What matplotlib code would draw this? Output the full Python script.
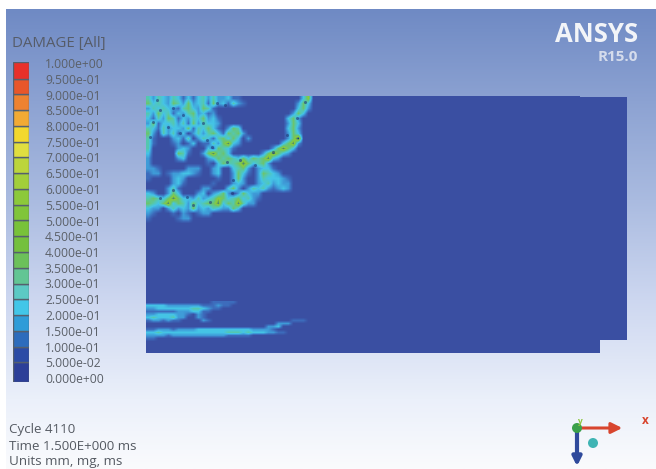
import numpy as np
import matplotlib
matplotlib.use("Agg")
import matplotlib.pyplot as plt
from matplotlib.colors import LinearSegmentedColormap
from matplotlib.patches import Polygon, Circle

W, H = 656, 469

# legend
levels = [0.0, 0.05, 0.1, 0.15, 0.2, 0.25, 0.3, 0.35, 0.4, 0.45, 0.5,
          0.55, 0.6, 0.65, 0.7, 0.75, 0.8, 0.85, 0.9, 0.95, 1.0]
level_labels = ["0.000e+00", "5.000e-02", "1.000e-01", "1.500e-01", "2.000e-01",
                "2.500e-01", "3.000e-01", "3.500e-01", "4.000e-01", "4.500e-01",
                "5.000e-01", "5.500e-01", "6.000e-01", "6.500e-01", "7.000e-01",
                "7.500e-01", "8.000e-01", "8.500e-01", "9.000e-01", "9.500e-01",
                "1.000e+00"]
band_colors = ["#2c3f98", "#2b4ba6", "#2d6cbc", "#2f9cd8", "#42c6e8",
               "#5cc9c4", "#62c594", "#6cc05a", "#74c03e", "#78c23a",
               "#80c53a", "#8cc93a", "#a2cf3a", "#bcd53c", "#e0de40",
               "#f2d82e", "#f2aa34", "#ee8230", "#e8562a", "#e8302a"]

# background
bg_stops_y = [9, 100, 200, 300, 400, 469]
bg_colors = ["#6f8ac4", "#8ca2d2", "#aabbe0", "#cdd7f0", "#ebf0fa", "#fafbfd"]

# body outline
body_x = [146, 580, 580, 627, 627, 600, 600, 146]
body_y = [96, 96, 97, 97, 340, 340, 353, 353]

# damage read by eye, one digit per cell (0 = none, 6 = green, 8 = dark eroded core)
upper_damage = [
    "424324313134242231100000000000036",
    "534325425234152314210000000000253",
    "243432145325410000000000000000352",
    "425341324523120000000000000002530",
    "314254132435231000000000000035200",
    "251334241524332000000000000025300",
    "431423325143531025400000000035200",
    "520424130242453154520000000025300",
    "410002314024314535302000000025800",
    "410001201301142573200000000357200",
    "400000232000315431000000025753000",
    "300000541002574530000002575320000",
    "200000230000235454353545732000000",
    "200000000000103544575345200000000",
    "221000002220023003452023310000000",
    "122012233210023002531025432000000",
    "100002320000001002520024333210000",
    "000002310000010002320023423220000",
    "000024100002200035202434212320000",
    "320025300023023520253220000000000",
    "454357533242346534534210000000000",
    "543573542534557354742200000000000",
    "322024232523243225300000000000000",
    "210001021012200000000000000000000",
    "100000122000000000000000000000000",
]
lower_damage = [
    "0000000000000111110000000000000000",
    "3333222222211121100000000000000000",
    "2233333334432110000000000000000000",
    "1111112223311000000000000000000000",
    "2233332210210000000000000000000000",
    "3433342200210000000000000000000000",
    "1221211000021000000000000000011100",
    "0000000000000000000000000022200000",
    "0000000000000000000000002230000000",
    "1122212222333333333332222100000000",
    "3343333333333333444343332211000000",
    "2222122222222222111110000000000000",
    "1100000000000000000000000000000000",
]
upper_origin = (146, 96)
lower_origin = (146, 301)
upper_cell = (5, 5)
lower_cell = (5, 3)
damage_colors = ["#3a4fa2", "#3d6cbc", "#3f9cd8", "#45c4e6", "#55c8b0",
                 "#6cc46e", "#8ccb3a", "#4a8a70", "#1e3a78"]

# dark spots inside the cracks
dark_spots_x = [157, 173, 153, 168, 183, 203, 207, 217, 225, 212, 227, 240, 255, 273,
                287, 297, 305, 233, 232, 173, 160, 187, 210, 193, 150, 180, 160]
dark_spots_y = [100, 108, 122, 127, 115, 123, 140, 103, 105, 147, 162, 160, 165, 152,
                135, 118, 102, 180, 193, 190, 198, 197, 202, 205, 137, 133, 110]


def to_grid(rows):
    n = max(len(r) for r in rows) + 1
    cells = [[int(c) for c in r.ljust(n, "0")] for r in rows]
    # blank row below so the field fades into the body
    cells += [[0] * n, [0] * n]
    return np.array(cells, dtype=float)


fig = plt.figure(figsize=(W / 100, H / 100), dpi=100)
plt.rcParams["font.family"] = "Open Sans"
ax = fig.add_axes([0, 0, 1, 1])
ax.axis("off")

cmap = LinearSegmentedColormap.from_list(
    "bg", [((y - 9) / (469 - 9), c) for y, c in zip(bg_stops_y, bg_colors)])
ax.imshow(np.linspace(0, 1, 256).reshape(-1, 1), extent=[6, W, H, 9],
          cmap=cmap, aspect="auto", zorder=0)

ax.add_patch(Polygon(list(zip(body_x, body_y)), closed=True, fc=damage_colors[0], ec="none", zorder=1))

dmg_cmap = LinearSegmentedColormap.from_list("dmg", damage_colors)
for rows, (x0, y0), (cw, ch) in [(upper_damage, upper_origin, upper_cell),
                                 (lower_damage, lower_origin, lower_cell)]:
    grid = to_grid(rows)
    nr, nc = grid.shape
    ax.imshow(grid, extent=[x0, x0 + nc * cw, y0 + nr * ch, y0], cmap=dmg_cmap,
              vmin=0, vmax=8, aspect="auto", interpolation="bilinear", zorder=2)

ax.scatter(dark_spots_x, dark_spots_y, s=5, color="#1e3a78", alpha=0.6, linewidths=0, zorder=3)

ax.set_xlim(0, W)
ax.set_ylim(H, 0)

# colour legend, its own axes so ticks carry the labels
cax = fig.add_axes([13 / W, 1 - 382 / H, 16 / W, 320 / H])
ylow, yhigh = -4 / 315, 1 + 1 / 315
cax.set_ylim(ylow, yhigh)
cax.set_xlim(0, 1)
for i, c in enumerate(band_colors):
    bot = levels[i] if i > 0 else ylow
    top = levels[i + 1] if i < 19 else yhigh
    cax.bar(0.5, top - bot, width=1, bottom=bot, color=c, edgecolor="#55606e", linewidth=1)
cax.set_xticks([])
cax.set_yticks(levels)
cax.set_yticklabels(level_labels, fontsize=8.7, color="#5b6068")
cax.yaxis.tick_right()
cax.tick_params(axis="y", length=0, pad=11.5)
for s in cax.spines.values():
    s.set_visible(False)

ax.text(12, 44, "DAMAGE [All]", fontsize=10.8, color="#565c68", va="center", ha="left")
ax.text(638, 42, "ANSYS", fontsize=18.5, fontweight="bold", color="#f2f4f8", va="baseline", ha="right")
ax.text(638, 61, "R15.0", fontsize=11, fontweight="bold", color="#d5dcec", va="baseline", ha="right")

ax.text(9, 430, "Cycle 4110", fontsize=9.6, color="#555a62", va="center")
ax.text(9, 447, "Time 1.500E+000 ms", fontsize=9.6, color="#555a62", va="center")
ax.text(9, 461, "Units mm, mg, ms", fontsize=9.6, color="#555a62", va="center")

# axis triad
ax.annotate("", xy=(625, 428), xytext=(577, 428),
            arrowprops=dict(arrowstyle="-|>", color="#d8452e", lw=2.2, mutation_scale=16), zorder=4)
ax.annotate("", xy=(577, 469), xytext=(577, 428),
            arrowprops=dict(arrowstyle="-|>", color="#2f4a9c", lw=3, mutation_scale=13), zorder=4)
ax.add_patch(Circle((577, 428), 5, fc="#3aa04a", ec="none", zorder=5))
ax.add_patch(Circle((593, 443), 5, fc="#3fb4b4", ec="none", zorder=5))
ax.text(645, 421, "x", fontsize=8.5, fontweight="bold", color="#d8452e", ha="center", va="center")
ax.text(579, 421, "y", fontsize=6, fontweight="bold", color="#8cc63e", ha="center", va="center", zorder=6)

fig.savefig("out.png", dpi=100, facecolor="white")
